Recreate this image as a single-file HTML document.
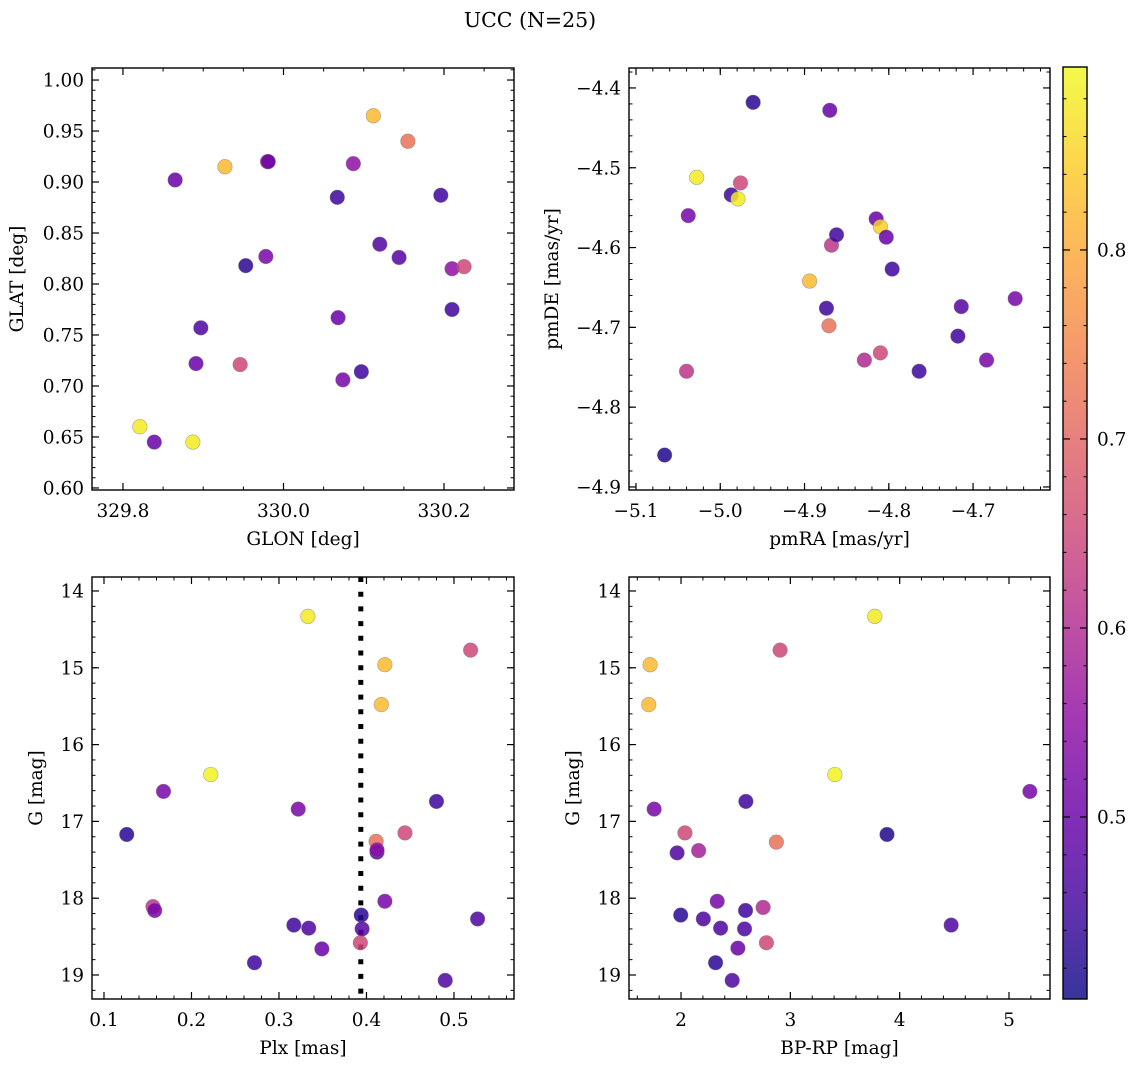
<!DOCTYPE html>
<html><head><meta charset="utf-8"><style>
html,body{margin:0;padding:0;background:#fff;}
svg{display:block;font-family:"DejaVu Serif","Liberation Serif",serif;}
</style></head><body>
<svg id="fig" width="1136" height="1067" viewBox="0 0 1136 1067" xmlns="http://www.w3.org/2000/svg">
<text x="530" y="27" font-size="20.5" text-anchor="middle">UCC (N=25)</text>
</svg>
<script>
// ---- data ----
const glon = [329.821,329.839,329.865,329.887,329.891,329.897,329.927,329.946,329.953,329.978,329.980,329.981,330.067,330.068,330.074,330.087,330.097,330.112,330.120,330.144,330.155,330.196,330.210,330.210,330.225];
const glat = [0.660,0.645,0.902,0.645,0.722,0.757,0.915,0.721,0.818,0.827,0.920,0.920,0.885,0.767,0.706,0.918,0.714,0.965,0.839,0.826,0.940,0.887,0.815,0.775,0.817];
const cTL  = [0.88,0.50,0.50,0.88,0.50,0.47,0.82,0.65,0.43,0.52,0.62,0.50,0.45,0.50,0.52,0.55,0.45,0.82,0.47,0.48,0.72,0.45,0.55,0.45,0.65];
const pmra = [-5.066,-5.040,-5.038,-5.028,-4.987,-4.976,-4.979,-4.961,-4.894,-4.874,-4.871,-4.870,-4.868,-4.862,-4.829,-4.815,-4.810,-4.810,-4.803,-4.796,-4.764,-4.718,-4.714,-4.684,-4.650];
const pmde = [-4.860,-4.755,-4.560,-4.512,-4.534,-4.519,-4.539,-4.418,-4.642,-4.676,-4.698,-4.428,-4.597,-4.584,-4.741,-4.564,-4.574,-4.732,-4.587,-4.627,-4.755,-4.711,-4.674,-4.741,-4.664];
const cTR  = [0.42,0.62,0.52,0.88,0.45,0.65,0.88,0.43,0.82,0.45,0.72,0.50,0.62,0.45,0.60,0.50,0.85,0.65,0.50,0.45,0.45,0.45,0.48,0.52,0.52];
const plx  = [0.126,0.156,0.158,0.168,0.222,0.272,0.317,0.322,0.333,0.334,0.349,0.393,0.394,0.395,0.411,0.412,0.412,0.417,0.421,0.421,0.444,0.480,0.490,0.519,0.527];
const gBL  = [17.17,18.11,18.16,16.61,16.39,18.84,18.35,16.84,14.33,18.39,18.66,18.58,18.22,18.40,17.26,17.40,17.37,15.48,14.96,18.04,17.15,16.74,19.07,14.77,18.27];
const cBL  = [0.43,0.62,0.52,0.52,0.89,0.45,0.45,0.52,0.88,0.47,0.50,0.65,0.43,0.48,0.72,0.47,0.55,0.82,0.82,0.52,0.65,0.45,0.47,0.65,0.47];
const bprp = [1.717,1.705,1.754,2.036,1.964,2.161,2.331,1.997,2.204,2.362,2.590,2.581,2.751,2.520,2.781,2.316,2.468,2.593,2.906,2.872,3.407,3.772,3.884,4.471,5.191];
const gBR  = [14.96,15.48,16.84,17.15,17.41,17.38,18.04,18.22,18.27,18.39,18.16,18.40,18.12,18.65,18.58,18.84,19.07,16.74,14.77,17.27,16.39,14.33,17.17,18.35,16.61];
const cBR  = [0.82,0.82,0.52,0.65,0.47,0.58,0.52,0.43,0.47,0.47,0.45,0.47,0.60,0.50,0.65,0.43,0.47,0.45,0.65,0.72,0.89,0.88,0.42,0.47,0.52];
const plxCut = [0.3935];
const cTicks = [0.5,0.6,0.7,0.8];
const cMin = 0.4037, cMax = 0.8968;

const NS="http://www.w3.org/2000/svg";
const svg=document.getElementById('fig');
const FS=18.5;
function mk(tag,attrs,parent){const e=document.createElementNS(NS,tag);for(const k in attrs)e.setAttribute(k,attrs[k]);(parent||svg).appendChild(e);return e;}
const plasma=[[13,8,135],[65,4,157],[106,0,168],[143,13,164],[177,42,144],[204,71,120],[225,100,98],[242,132,75],[252,166,54],[252,206,37],[240,249,33]];
function cmap(v){let t=(v-cMin)/(cMax-cMin);t=Math.max(0,Math.min(1,t))*10;const i=Math.min(9,Math.floor(t)),f=t-i;const a=plasma[i],b=plasma[i+1];return 'rgb('+[0,1,2].map(k=>Math.round(a[k]+(b[k]-a[k])*f)).join(',')+')';}
function fmt(v,d){return (v<0?'\u2212':'')+Math.abs(v).toFixed(d);}

function panel(o){
  const g=mk('g',{});
  
  
  const sx=v=>o.x0+(v-o.xmin)/(o.xmax-o.xmin)*(o.x1-o.x0);
  const sy=o.yinv? (v=>o.y0+(v-o.ymin)/(o.ymax-o.ymin)*(o.y1-o.y0)) : (v=>o.y1-(v-o.ymin)/(o.ymax-o.ymin)*(o.y1-o.y0));
  const eps=1e-9;
  for(let v=Math.ceil(o.xmin/o.xminor-eps)*o.xminor; v<=o.xmax+eps; v+=o.xminor){const x=sx(v);
    mk('line',{x1:x,x2:x,y1:o.y1,y2:o.y1-3.5,stroke:'#000','stroke-width':1},g);mk('line',{x1:x,x2:x,y1:o.y0,y2:o.y0+3.5,stroke:'#000','stroke-width':1},g);}
  for(let v=Math.ceil(o.ymin/o.yminor-eps)*o.yminor; v<=o.ymax+eps; v+=o.yminor){const y=sy(v);
    mk('line',{x1:o.x0,x2:o.x0+3.5,y1:y,y2:y,stroke:'#000','stroke-width':1},g);mk('line',{x1:o.x1,x2:o.x1-3.5,y1:y,y2:y,stroke:'#000','stroke-width':1},g);}
  o.xticks.forEach(v=>{const x=sx(v);
    mk('line',{x1:x,x2:x,y1:o.y1,y2:o.y1-7,stroke:'#000','stroke-width':1.2},g);mk('line',{x1:x,x2:x,y1:o.y0,y2:o.y0+7,stroke:'#000','stroke-width':1.2},g);
    const t=mk('text',{x:x,y:o.y1+27,'font-size':FS,'text-anchor':'middle'},g);t.textContent=fmt(v,o.xd);
    
    });
  o.yticks.forEach(v=>{const y=sy(v);
    mk('line',{x1:o.x0,x2:o.x0+7,y1:y,y2:y,stroke:'#000','stroke-width':1.2},g);mk('line',{x1:o.x1,x2:o.x1-7,y1:y,y2:y,stroke:'#000','stroke-width':1.2},g);
    const t=mk('text',{x:o.x0-8,y:y+6.5,'font-size':FS,'text-anchor':'end'},g);t.textContent=fmt(v,o.yd);
    
    });
  if(o.vline){o.vline.forEach(v=>{const l=mk('line',{x1:sx(v),x2:sx(v),y1:o.y0,y2:o.y1,stroke:'#000','stroke-width':5,'stroke-dasharray':'5,9.7'},g);
    
    });}
  for(let i=0;i<o.xs.length;i++){
    const c=mk('circle',{cx:sx(o.xs[i]),cy:sy(o.ys[i]),r:7.3,fill:cmap(o.cs[i]),'fill-opacity':0.85,stroke:'#777','stroke-opacity':0.6,'stroke-width':0.6},g);
    
    
  }
  const fr=mk('rect',{x:o.x0,y:o.y0,width:o.x1-o.x0,height:o.y1-o.y0,fill:'none',stroke:'#000','stroke-width':1.4},g);
  
  
  const xl=mk('text',{x:(o.x0+o.x1)/2,y:o.y1+55,'font-size':FS,'text-anchor':'middle'},g);xl.textContent=o.xlabel;
  
  
  const yx=o.ylx, yy=(o.y0+o.y1)/2;
  const yl=mk('text',{x:yx,y:yy,'font-size':FS,'text-anchor':'middle',transform:'rotate(-90 '+yx+' '+yy+')'},g);yl.textContent=o.ylabel;
  
  
}
function rng(a,b,s){const r=[];for(let v=a;v<=b+1e-9;v+=s)r.push(+v.toFixed(6));return r;}

panel({name:'glon-glat-panel',x0:92,x1:514,y0:68,y1:490,xmin:329.7614,xmax:330.2872,ymin:0.598,ymax:1.0118,
  xticks:[329.8,330.0,330.2],xd:1,xminor:0.05,yticks:rng(0.6,1.0,0.05),yd:2,yminor:0.01,
  xs:glon,ys:glat,cs:cTL,xlabel:'GLON [deg]',ylabel:'GLAT [deg]',ylx:23});
panel({name:'pm-panel',x0:629,x1:1050,y0:68,y1:490,xmin:-5.1083,xmax:-4.6087,ymin:-4.9038,ymax:-4.375,
  xticks:rng(-5.1,-4.7,0.1),xd:1,xminor:0.02,yticks:rng(-4.9,-4.4,0.1),yd:1,yminor:0.02,
  xs:pmra,ys:pmde,cs:cTR,xlabel:'pmRA [mas/yr]',ylabel:'pmDE [mas/yr]',ylx:558});
panel({name:'plx-g-panel',x0:92,x1:514,y0:577,y1:999,xmin:0.0863,xmax:0.5686,ymin:13.818,ymax:19.3125,yinv:true,
  xticks:rng(0.1,0.5,0.1),xd:1,xminor:0.02,yticks:rng(14,19,1),yd:0,yminor:0.2,
  xs:plx,ys:gBL,cs:cBL,vline:plxCut,xlabel:'Plx [mas]',ylabel:'G [mag]',ylx:42});
panel({name:'cmd-panel',x0:629,x1:1050,y0:577,y1:999,xmin:1.524,xmax:5.375,ymin:13.818,ymax:19.3125,yinv:true,
  xticks:[2,3,4,5],xd:0,xminor:0.2,yticks:rng(14,19,1),yd:0,yminor:0.2,
  xs:bprp,ys:gBR,cs:cBR,xlabel:'BP-RP [mag]',ylabel:'G [mag]',ylx:579});

// colorbar
const cb=mk('g',{});


const defs=mk('defs',{},cb);
const lg=mk('linearGradient',{id:'pl',x1:0,y1:1,x2:0,y2:0},defs);
plasma.forEach((c,i)=>mk('stop',{offset:(i/10),'stop-color':'rgb('+c.join(',')+')','stop-opacity':0.82},lg));
const cbx0=1063,cbx1=1087,cby0=67,cby1=999;
mk('rect',{x:cbx0,y:cby0,width:cbx1-cbx0,height:cby1-cby0,fill:'url(#pl)'},cb);
const cy=v=>cby1-(v-cMin)/(cMax-cMin)*(cby1-cby0);
for(let v=0.42;v<=cMax;v+=0.02){const y=cy(v);mk('line',{x1:cbx1,x2:cbx1-3.5,y1:y,y2:y,stroke:'#000','stroke-width':1},cb);mk('line',{x1:cbx0,x2:cbx0+3.5,y1:y,y2:y,stroke:'#000','stroke-width':1},cb);}
cTicks.forEach(v=>{const y=cy(v);
  mk('line',{x1:cbx1,x2:cbx1-7,y1:y,y2:y,stroke:'#000','stroke-width':1.2},cb);mk('line',{x1:cbx0,x2:cbx0+7,y1:y,y2:y,stroke:'#000','stroke-width':1.2},cb);
  const t=mk('text',{x:cbx1+10,y:y+6.5,'font-size':FS},cb);t.textContent=v.toFixed(1);
  
  });
mk('rect',{x:cbx0,y:cby0,width:cbx1-cbx0,height:cby1-cby0,fill:'none',stroke:'#000','stroke-width':1.4},cb);
</script>
</body></html>
